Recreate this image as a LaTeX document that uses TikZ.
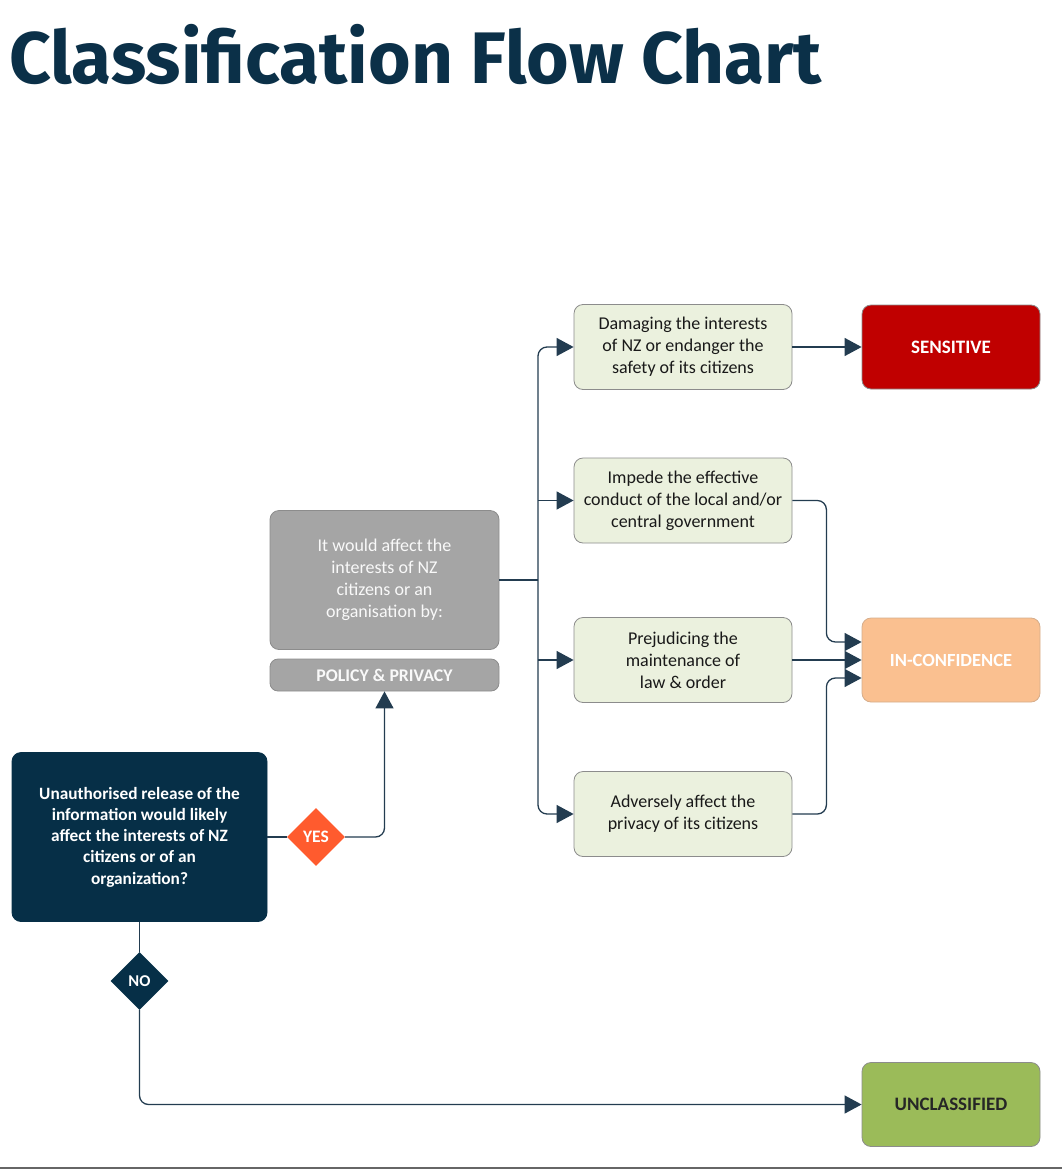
\documentclass[tikz,border=0pt]{standalone}
\usepackage{fontspec}
\setmainfont{Carlito}
\newfontfamily\titlefont{Fira Sans}
\usetikzlibrary{shapes.geometric,arrows.meta,calc}
\definecolor{navy}{HTML}{0B3048}
\definecolor{darkbox}{HTML}{062F47}
\definecolor{linec}{HTML}{233C50}
\definecolor{greenfill}{HTML}{EBF1DE}
\definecolor{boxborder}{HTML}{8C8C8C}
\definecolor{grayfill}{HTML}{A5A5A5}
\definecolor{sensred}{HTML}{C00000}
\definecolor{confor}{HTML}{FAC090}
\definecolor{unclgreen}{HTML}{9BBB59}
\definecolor{yesor}{HTML}{FF5B2E}
\tikzset{
  boxbase/.style={rectangle, rounded corners=9pt, draw=boxborder, line width=0.8pt, align=center, inner sep=2pt, font=\fontsize{18}{22}\selectfont},
  greenbox/.style={boxbase, fill=greenfill, minimum width=218pt, minimum height=85pt, text=black!90},
  resbox/.style={boxbase, minimum width=178pt, minimum height=84pt, font=\fontsize{19}{22}\selectfont\bfseries},
  dia/.style={diamond, minimum size=58pt, inner sep=0pt, aspect=1, font=\fontsize{17.5}{18}\selectfont\bfseries, text=white},
  conn/.style={draw=linec, line width=1.3pt, rounded corners=9pt},
  arr/.style={conn, -{Triangle[length=17pt,width=18pt]}},
}
\begin{document}
\begin{tikzpicture}[x=1pt,y=-1pt]
\useasboundingbox (0,0) rectangle (1062,1170);
% title
\node[anchor=base west, inner sep=0pt, text=navy, font=\titlefont\bfseries\fontsize{73}{80}\selectfont] (title) at (9,83) {Classification Flow Chart};
% boxes
\node[greenbox] (dam) at (683,347) {Damaging the interests\\of NZ or endanger the\\safety of its citizens};
\node[greenbox] (imp) at (683,500.5) {Impede the effective\\conduct of the local and/or\\central government};
\node[greenbox] (pre) at (683,660) {Prejudicing the\\maintenance of\\law \& order};
\node[greenbox] (adv) at (683,814) {Adversely affect the\\privacy of its citizens};
\node[resbox, fill=sensred, text=white] (sen) at (951,347) {SENSITIVE};
\node[resbox, fill=confor, draw=confor!70!gray, text=white, font=\fontsize{18.5}{22}\selectfont\bfseries] (inc) at (951,660) {IN-CONFIDENCE};
\node[resbox, fill=unclgreen, text=black!85] (unc) at (951,1104.5) {UNCLASSIFIED};
\node[boxbase, fill=grayfill, draw=grayfill!85!black, text=white!95!gray, minimum width=229pt, minimum height=139pt] (gray) at (384.5,580) {It would affect the\\interests of NZ\\citizens or an\\organisation by:};
\node[boxbase, rounded corners=8pt, fill=grayfill, draw=grayfill!85!black, text=white!95!gray, minimum width=229pt, minimum height=32pt, font=\fontsize{17.8}{18}\selectfont\bfseries] (pol) at (384.5,675) {POLICY \& PRIVACY};
\node[boxbase, fill=darkbox, draw=darkbox, text=white, minimum width=255pt, minimum height=169pt, font=\fontsize{17.3}{21.3}\selectfont\bfseries] (q) at (139.5,837) {Unauthorised release of the\\information would likely\\affect the interests of NZ\\citizens or of an\\organization?};
\node[dia, fill=yesor] (yes) at (316,837) {YES};
\node[dia, fill=darkbox, font=\fontsize{16.5}{18}\selectfont\bfseries] (no) at (139.5,981) {NO};
% connectors
\coordinate (j) at (538,580);
\draw[conn] (gray.east) -- (j);
\draw[arr] (j) |- (dam.west);
\draw[arr] (j) |- (adv.west);
\draw[arr] (j |- imp.west) -- (imp.west);
\draw[arr] (j |- pre.west) -- (pre.west);
\draw[arr] (dam.east) -- (sen.west);
\draw[arr] (imp.east) -- ++(34,0) |- ([yshift=18pt]inc.west);
\draw[arr] (pre.east) -- (inc.west);
\draw[arr] (adv.east) -- ++(34,0) |- ([yshift=-18pt]inc.west);
\draw[conn] (q.east) -- (yes.west);
\draw[arr] (yes.east) -| (pol.south);
\draw[conn] (q.south) -- (no.north);
\draw[arr] (no.south) |- (unc.west);
% bottom rule
\draw[draw=gray!80!black, line width=1.6pt] (0,1168) -- (1062,1168);
\end{tikzpicture}
\end{document}
